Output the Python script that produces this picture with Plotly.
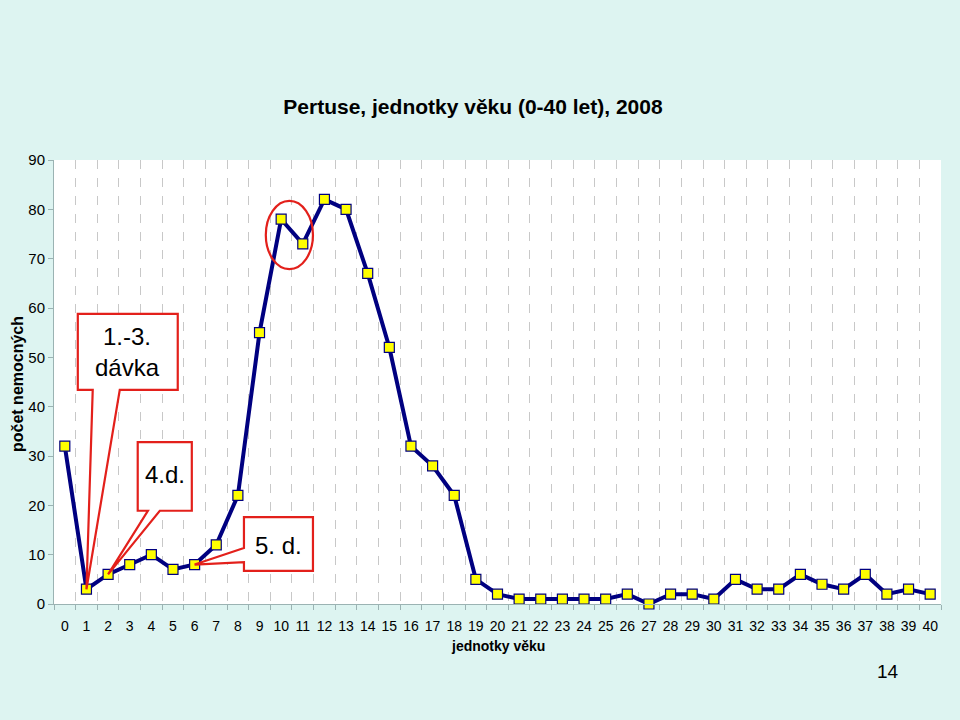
import plotly.graph_objects as go

ages = list(range(0, 41))
cases = [32, 3, 6, 8, 10, 7, 8, 12, 22, 55, 78, 73, 82, 80, 67, 52, 32, 28, 22, 5,
         2, 1, 1, 1, 1, 1, 2, 0, 2, 2, 1, 5, 3, 3, 6, 4, 3, 6, 2, 3, 2]
y_ticks = [0, 10, 20, 30, 40, 50, 60, 70, 80, 90]

title = "Pertuse, jednotky věku (0-40 let), 2008"
x_title = "jednotky věku"
y_title = "počet nemocných"
page_no = "14"

BG = "#DDF4F1"
NAVY = "#000080"
RED = "#E3201B"
FONT = "Liberation Sans, Arial, sans-serif"

W, H = 960, 720
L, R, T, B = 54, 19, 160, 116
PW, PH = W - L - R, H - T - B


def px_x(px):
    return (px - L) / PW


def px_y(py):
    return (H - B - py) / PH


fig = go.Figure()
fig.add_trace(go.Scatter(
    x=ages, y=cases, mode="lines+markers",
    line=dict(color=NAVY, width=4),
    marker=dict(symbol="square", size=10, color="#FFFF00", line=dict(color=NAVY, width=1.2)),
    hoverinfo="x+y", showlegend=False, cliponaxis=False,
))


def callout(x0, x1, y0, y1, tip, base, side="bottom"):
    tx, ty = tip
    b1, b2 = base
    if side == "bottom":
        return (f"M{x0},{y1} L{x1},{y1} L{x1},{y0} L{b2},{y0} L{tx},{ty} "
                f"L{b1},{y0} L{x0},{y0} Z")
    return (f"M{x0},{y1} L{x1},{y1} L{x1},{y0} L{x0},{y0} L{x0},{b2} "
            f"L{tx},{ty} L{x0},{b1} Z")


shapes = [
    dict(type="path", xref="x", yref="y", layer="above",
         path=callout(0.60, 5.22, 43.4, 58.8, (1, cases[1]), (1.29, 2.54)),
         fillcolor="white", line=dict(color=RED, width=2.2)),
    dict(type="path", xref="x", yref="y", layer="above",
         path=callout(3.37, 5.87, 18.9, 32.8, (2, cases[2]), (3.84, 4.39)),
         fillcolor="white", line=dict(color=RED, width=2.2)),
    dict(type="path", xref="x", yref="y", layer="above",
         path=callout(8.28, 11.47, 6.7, 17.6, (6, cases[6]), (11.35, 8.5), side="left"),
         fillcolor="white", line=dict(color=RED, width=2.2)),
    dict(type="circle", xref="x", yref="y", layer="above",
         x0=9.29, x1=11.47, y0=67.9, y1=81.7,
         line=dict(color=RED, width=2.2)),
]

box_font = dict(size=24, color="black", family=FONT)
annotations = [
    dict(x=2.91, y=51.1, xref="x", yref="y", text="1.-3.<br>dávka", showarrow=False,
         font=box_font, xanchor="center", yanchor="middle"),
    dict(x=4.62, y=26.3, xref="x", yref="y", text="4.d.", showarrow=False,
         font=box_font, xanchor="center", yanchor="middle"),
    dict(x=9.88, y=11.9, xref="x", yref="y", text="5. d.", showarrow=False,
         font=box_font, xanchor="center", yanchor="middle"),
    dict(x=px_x(888), y=px_y(671), xref="paper", yref="paper", text=page_no,
         showarrow=False, font=dict(size=19, color="black", family=FONT),
         xanchor="center", yanchor="middle"),
    dict(x=px_x(498), y=px_y(646), xref="paper", yref="paper",
         text=f"<b>{x_title}</b>", showarrow=False,
         font=dict(size=14, color="black", family=FONT),
         xanchor="center", yanchor="middle"),
    dict(x=px_x(17), y=px_y(384), xref="paper", yref="paper",
         text=f"<b>{y_title}</b>", showarrow=False, textangle=-90,
         font=dict(size=16, color="black", family=FONT),
         xanchor="center", yanchor="middle"),
]

fig.update_layout(
    width=W, height=H,
    paper_bgcolor=BG, plot_bgcolor="white",
    margin=dict(l=L, r=R, t=T, b=B, autoexpand=False),
    font=dict(family=FONT, color="black", size=14),
    title=dict(text=f"<b>{title}</b>", x=473 / W, xanchor="center",
               y=1 - 107 / H, yanchor="middle", font=dict(size=21)),
    shapes=shapes, annotations=annotations,
)

fig.update_xaxes(
    range=[-0.5, 40.5], tickmode="array", tickvals=ages,
    ticktext=[str(a) for a in ages], ticks="", showgrid=False,
    showline=True, linecolor="#9BB3B3", linewidth=1, zeroline=False,
    tickfont=dict(size=14), automargin=False, ticklabelstandoff=9,
    minor=dict(tick0=0.5, dtick=1, showgrid=True, gridcolor="#C8C8C8",
               griddash="dash", gridwidth=1, ticks="outside", ticklen=5,
               tickcolor="#9BB3B3"),
)
fig.update_yaxes(
    range=[0, 90], tickvals=y_ticks, showgrid=False, zeroline=False,
    showline=True, linecolor="#9BB3B3", linewidth=1,
    ticks="outside", ticklen=5, tickcolor="#9BB3B3",
    tickfont=dict(size=15), automargin=False,
)

fig.write_html(
    "out.html",
    config={"displayModeBar": False},
    post_script="document.body.style.margin='0';document.body.style.overflow='hidden';",
)
